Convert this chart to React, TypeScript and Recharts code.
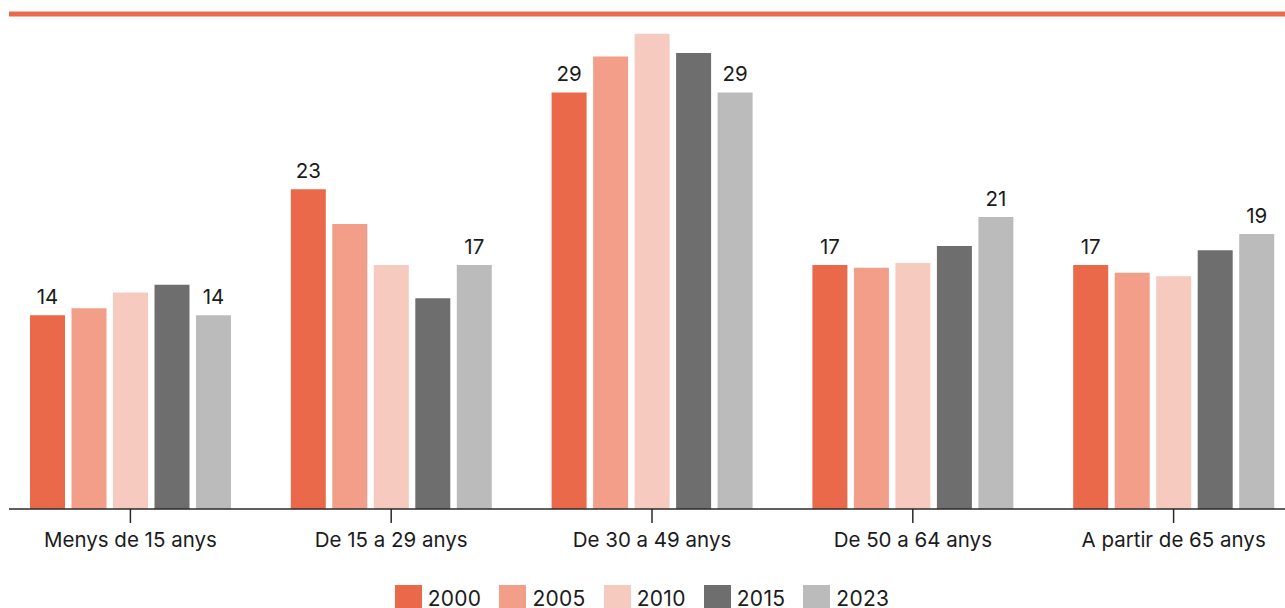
import React from "react";
import {
  BarChart,
  Bar,
  XAxis,
  YAxis,
  Legend,
  LabelList,
  ReferenceLine,
} from "recharts";

// categories + series values (%)
const categories = [
  "Menys de 15 anys",
  "De 15 a 29 anys",
  "De 30 a 49 anys",
  "De 50 a 64 anys",
  "A partir de 65 anys",
];
const years = ["2000", "2005", "2010", "2015", "2023"];
const v2000 = [13.7, 22.6, 29.45, 17.25, 17.25];
const v2005 = [14.2, 20.15, 32.0, 17.05, 16.7];
const v2010 = [15.3, 17.25, 33.6, 17.4, 16.45];
const v2015 = [15.85, 14.9, 32.25, 18.6, 18.3];
const v2023 = [13.7, 17.25, 29.45, 20.65, 19.45];

const seriesValues = [v2000, v2005, v2010, v2015, v2023];
const COLORS = ["#E9694A", "#F29E89", "#F7CABF", "#6E6E6E", "#BBBBBB"];
const LABELLED = ["2000", "2023"];

const FONT = `Inter, "Noto Sans", sans-serif`;
const TEXT = "#1b1b1b";

const data = categories.map((name, i) => {
  const row: Record<string, any> = { name };
  years.forEach((y, k) => {
    row[y] = seriesValues[k][i];
  });
  return row;
});

function LegendBox() {
  return (
    <div
      style={{
        display: "flex",
        justifyContent: "center",
        paddingTop: 16,
        paddingRight: 29,
        height: 27,
        fontFamily: FONT,
        fontSize: 21,
        letterSpacing: 0.3,
        color: TEXT,
      }}
    >
      {years.map((y, i) => (
        <div
          key={y}
          style={{
            display: "flex",
            alignItems: "center",
            marginRight: i < years.length - 1 ? 18 : 0,
          }}
        >
          <span
            style={{
              width: 27,
              height: 27,
              background: COLORS[i],
              display: "inline-block",
              marginRight: 6,
            }}
          />
          <span>{y}</span>
        </div>
      ))}
    </div>
  );
}

export default function App() {
  return (
    <div
      style={{
        position: "absolute",
        left: 0,
        top: 0,
        width: 1285,
        height: 608,
        overflow: "hidden",
        background: "#fff",
      }}
    >
      <BarChart
        width={1304}
        height={612}
        data={data}
        margin={{ top: 14, right: 0, left: 9, bottom: 0 }}
        barSize={35}
        barGap={6.5}
      >
        <XAxis
          dataKey="name"
          padding={{ left: -9, right: 0 }}
          height={60}
          tickSize={14}
          tickMargin={9}
          axisLine={{ stroke: "#2a2a2a", strokeWidth: 1.5 }}
          tickLine={{ stroke: "#2a2a2a", strokeWidth: 1.5 }}
          tick={{ fill: TEXT, fontSize: 20.5, fontFamily: FONT }}
          interval={0}
        />
        <YAxis hide domain={[0, 35]} />
        <ReferenceLine y={35} stroke="#E9694A" strokeWidth={5} ifOverflow="extendDomain" />
        {years.map((y, i) => (
          <Bar key={y} dataKey={y} fill={COLORS[i]} isAnimationActive={false}>
            {LABELLED.includes(y) && (
              <LabelList
                dataKey={y}
                position="top"
                offset={11}
                formatter={(v: any) => String(Math.round(Number(v)))}
                style={{ fill: TEXT, fontSize: 20.5, fontFamily: FONT }}
              />
            )}
          </Bar>
        ))}
        <Legend verticalAlign="bottom" content={() => <LegendBox />} />
      </BarChart>
    </div>
  );
}
